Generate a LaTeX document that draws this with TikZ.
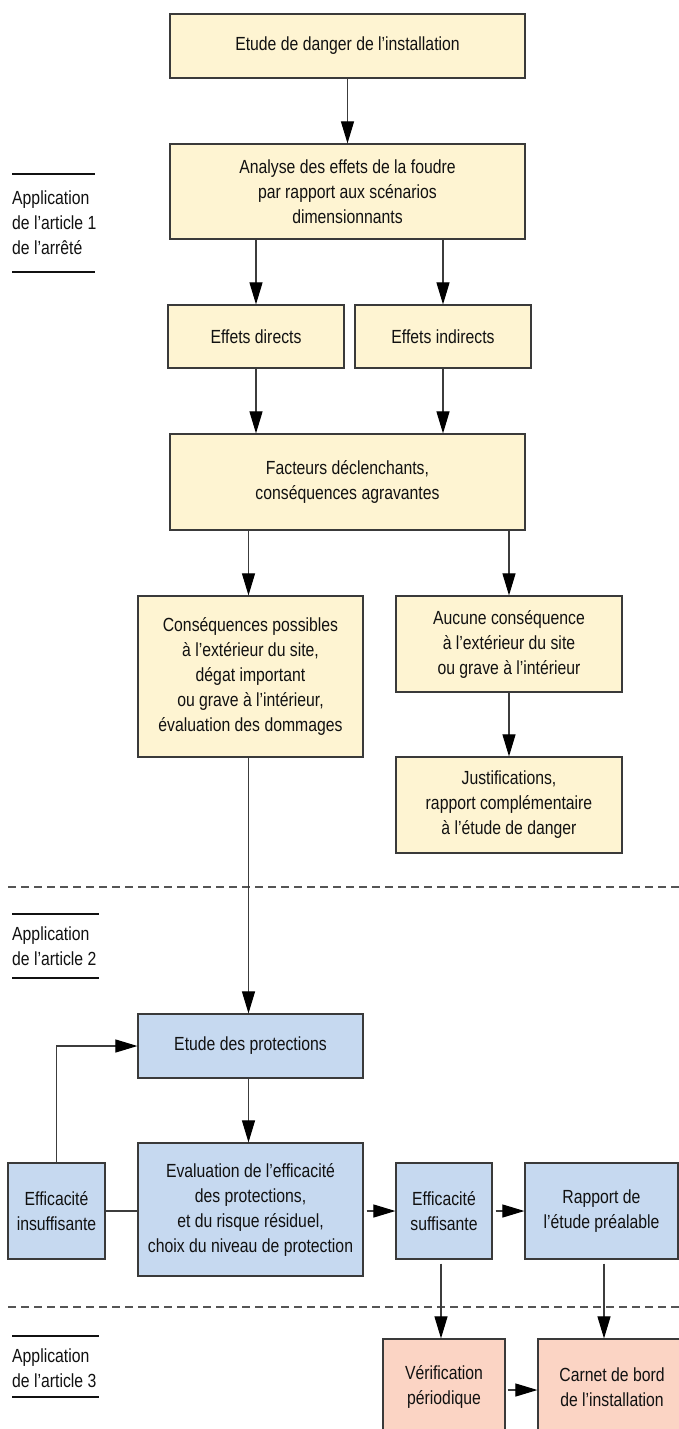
\documentclass[tikz,border=0pt]{standalone}
\usepackage{fontspec}
\setmainfont[FakeStretch=0.83]{Liberation Sans}
\usetikzlibrary{arrows.meta}
\definecolor{yfill}{HTML}{FEF4D2}
\definecolor{bfill}{HTML}{C6D9F0}
\definecolor{pfill}{HTML}{FBD4C4}
\definecolor{boxline}{HTML}{3A3A3A}
\definecolor{linec}{HTML}{3C3C3C}
\definecolor{txt}{HTML}{111111}
\definecolor{dashc}{HTML}{555555}
\begin{document}
\begin{tikzpicture}[x=1pt,y=-1pt,
  font=\fontsize{19pt}{25pt}\selectfont,
  box/.style={draw=boxline, line width=1.2pt, align=center, inner sep=0pt, text=txt},
  yel/.style={box, fill=yfill},
  blu/.style={box, fill=bfill},
  pnk/.style={box, fill=pfill},
  wire/.style={draw=linec, line width=1.1pt},
  arr/.style={wire, -{Triangle[length=22pt,width=13pt,color=black]}},
  lab/.style={align=left, inner sep=0pt, text=txt, anchor=west},
  rulel/.style={draw=txt, line width=1.1pt},
  sep/.style={draw=dashc, line width=1.2pt, dash pattern=on 8pt off 5pt}]
\useasboundingbox (0,0) rectangle (679,1429);
\fill[white] (0,0) rectangle (679,1429);

% section separators
\draw[sep] (8,887) -- (679,887);
\draw[sep] (8,1307) -- (679,1307);

% labels
\node[lab] (l1) at (12,222.5) {Application\\de l’article 1\\de l’arrêté};
\draw[rulel] (12,174) -- (95,174);
\draw[rulel] (12,272) -- (95,272);
\node[lab] (l2) at (12,946) {Application\\de l’article 2};
\draw[rulel] (12,914) -- (99,914);
\draw[rulel] (12,978) -- (99,978);
\node[lab] (l3) at (12,1368) {Application\\de l’article 3};
\draw[rulel] (12,1336) -- (99,1336);
\draw[rulel] (12,1397) -- (99,1397);

% boxes
\node[yel, minimum width=355pt, minimum height=64pt] (b1) at (347.5,46) {Etude de danger de l’installation};
\node[yel, minimum width=355pt, minimum height=95pt] (b2) at (347.5,191.5) {Analyse des effets de la foudre\\par rapport aux scénarios\\dimensionnants};
\node[yel, minimum width=176pt, minimum height=63pt] (b3) at (256,336.5) {Effets directs};
\node[yel, minimum width=176pt, minimum height=63pt] (b4) at (443,336.5) {Effets indirects};
\node[yel, minimum width=355pt, minimum height=96pt] (b5) at (347.5,482) {Facteurs déclenchants,\\conséquences agravantes};
\node[yel, minimum width=225pt, minimum height=161pt] (b6) at (250.5,676.5) {Conséquences possibles\\à l’extérieur du site,\\dégat important\\ou grave à l’intérieur,\\évaluation des dommages};
\node[yel, minimum width=226pt, minimum height=96pt] (b7) at (509,644) {Aucune conséquence\\à l’extérieur du site\\ou grave à l’intérieur};
\node[yel, minimum width=226pt, minimum height=96pt] (b8) at (509,805) {Justifications,\\rapport complémentaire\\à l’étude de danger};
\node[blu, minimum width=225pt, minimum height=64pt] (b9) at (250.5,1046) {Etude des protections};
\node[blu, minimum width=225pt, minimum height=133pt] (b10) at (250.5,1209.5) {Evaluation de l’efficacité\\des protections,\\et du risque résiduel,\\choix du niveau de protection};
\node[blu, minimum width=97pt, minimum height=96pt] (b11) at (56.5,1211) {Efficacité\\insuffisante};
\node[blu, minimum width=96pt, minimum height=96pt] (b12) at (444,1211) {Efficacité\\suffisante};
\node[blu, minimum width=153pt, minimum height=96pt] (b13) at (601.5,1211) {Rapport de\\l’étude préalable};
\node[pnk, minimum width=122pt, minimum height=96pt] (b14) at (444,1387) {Vérification\\périodique};
\node[pnk, minimum width=148pt, minimum height=96pt] (b15) at (612,1387) {Carnet de bord\\de l’installation};

% connectors
\draw[arr] (b1.south) -- (b2.north);
\draw[arr] (b3.north |- b2.south) -- (b3.north);
\draw[arr] (b4.north |- b2.south) -- (b4.north);
\draw[arr] (b3.south) -- (b3.south |- b5.north);
\draw[arr] (b4.south) -- (b4.south |- b5.north);
\draw[arr] ([xshift=-2pt]b6.north |- b5.south) -- ([xshift=-2pt]b6.north);
\draw[arr] (b7.north |- b5.south) -- (b7.north);
\draw[arr] (b7.south) -- (b8.north);
\draw[arr] ([xshift=-2pt]b6.south) -- ([xshift=-2pt]b9.north);
\draw[arr] ([xshift=-2pt]b9.south) -- ([xshift=-2pt]b10.north);
\draw[wire] (b11.east) -- (b11.east -| b10.west);
\draw[arr] (b11.north) |- (b9.west);
\draw[arr, shorten <=3pt] (b10.east |- b12.west) -- (b12.west);
\draw[arr, shorten <=3pt] (b12.east) -- (b13.west);
\draw[arr, shorten <=4pt] ([xshift=-3pt]b12.south) -- ([xshift=-3pt]b14.north);
\draw[arr, shorten <=4pt] ([xshift=2.5pt]b13.south) -- ([xshift=2.5pt]b13.south |- b15.north);
\draw[arr, shorten <=2pt] ([yshift=-3pt]b14.east) -- ([yshift=-3pt]b14.east -| b15.west);
\end{tikzpicture}
\end{document}
